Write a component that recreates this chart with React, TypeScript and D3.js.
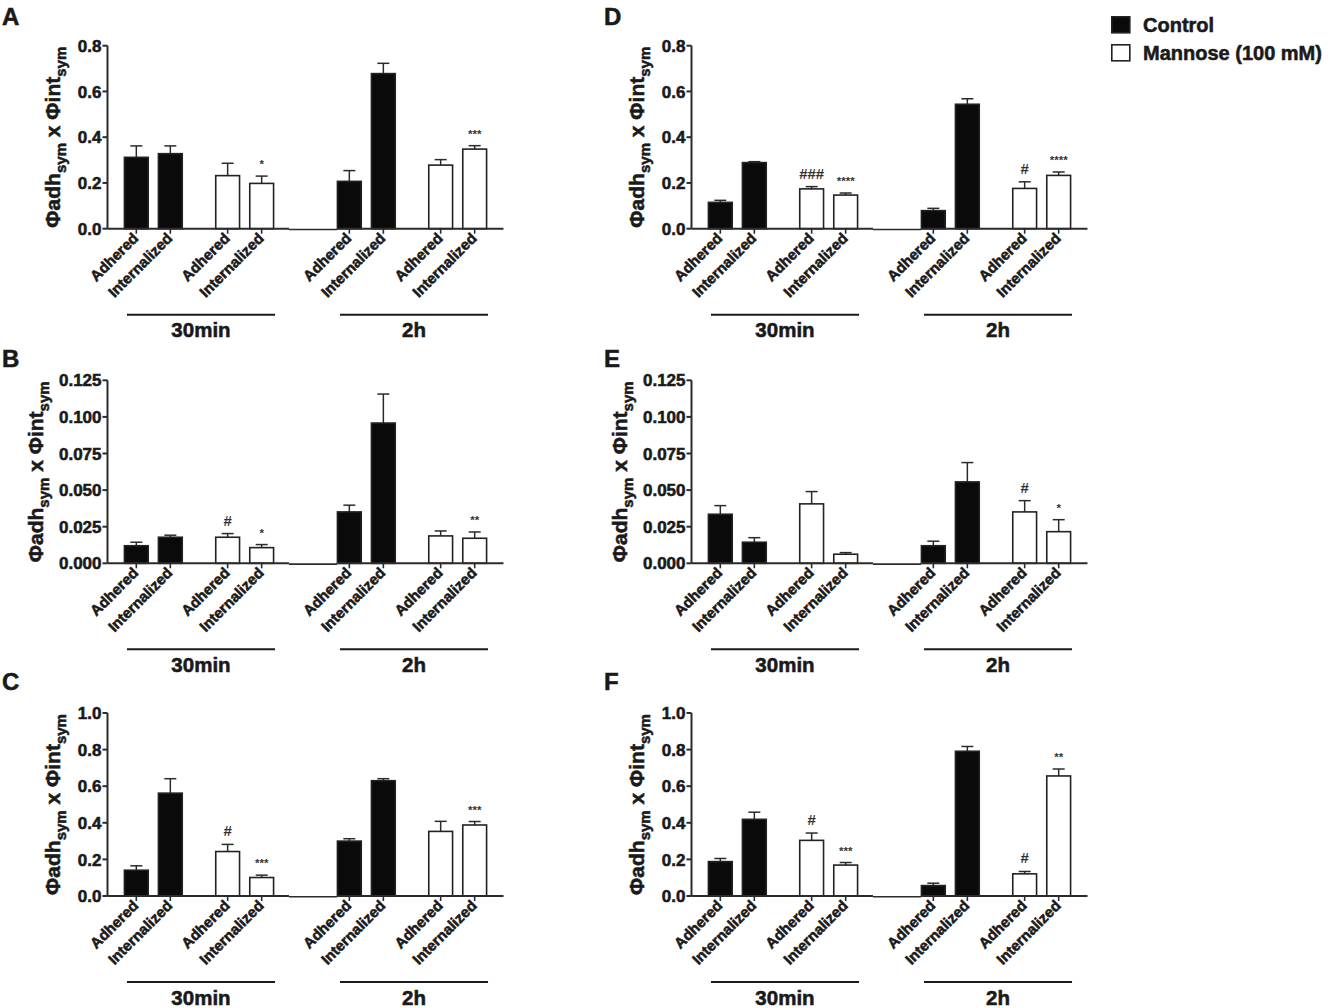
import * as d3 from 'd3';

// group / category structure
const times = ['30min', '2h'];
const treatments = ['Control', 'Mannose (100 mM)'];
const fractions = ['Adhered', 'Internalized'];

// bar order: 30min Ctrl Adh, 30min Ctrl Int, 30min Man Adh, 30min Man Int, 2h Ctrl Adh, 2h Ctrl Int, 2h Man Adh, 2h Man Int
const meansA = [0.312, 0.328, 0.232, 0.198, 0.207, 0.678, 0.278, 0.348];
const semA = [0.05, 0.034, 0.054, 0.032, 0.047, 0.045, 0.024, 0.015];
const marksA = ['', '', '', '*', '', '', '', '***'];

const meansB = [0.012, 0.0178, 0.0178, 0.0107, 0.0351, 0.0958, 0.0187, 0.0171];
const semB = [0.0024, 0.0014, 0.0025, 0.0021, 0.0046, 0.0198, 0.0034, 0.0043];
const marksB = ['', '', '#', '*', '', '', '', '**'];

const meansC = [0.141, 0.562, 0.243, 0.101, 0.3, 0.63, 0.353, 0.388];
const semC = [0.024, 0.079, 0.039, 0.013, 0.013, 0.011, 0.055, 0.019];
const marksC = ['', '', '#', '***', '', '', '', '***'];

const meansD = [0.115, 0.289, 0.174, 0.147, 0.079, 0.544, 0.176, 0.233];
const semD = [0.009, 0.004, 0.01, 0.009, 0.01, 0.024, 0.029, 0.015];
const marksD = ['', '', '###', '****', '', '', '#', '****'];

const meansE = [0.0335, 0.0144, 0.0406, 0.0062, 0.012, 0.0556, 0.0351, 0.0216];
const semE = [0.0059, 0.0031, 0.0084, 0.0011, 0.0031, 0.0132, 0.0077, 0.0082];
const marksE = ['', '', '', '', '', '', '#', '*'];

const meansF = [0.188, 0.419, 0.304, 0.169, 0.057, 0.791, 0.121, 0.656];
const semF = [0.017, 0.039, 0.04, 0.014, 0.013, 0.026, 0.013, 0.038];
const marksF = ['', '', '#', '***', '', '', '#', '**'];

const ticks08 = [0, 0.2, 0.4, 0.6, 0.8];
const ticks0125 = [0, 0.025, 0.05, 0.075, 0.1, 0.125];
const ticks10 = [0, 0.2, 0.4, 0.6, 0.8, 1.0];

const panels = [
  { letter: 'A', col: 0, row: 0, means: meansA, sem: semA, marks: marksA, ticks: ticks08, fmt: '.1f' },
  { letter: 'B', col: 0, row: 1, means: meansB, sem: semB, marks: marksB, ticks: ticks0125, fmt: '.3f' },
  { letter: 'C', col: 0, row: 2, means: meansC, sem: semC, marks: marksC, ticks: ticks10, fmt: '.1f' },
  { letter: 'D', col: 1, row: 0, means: meansD, sem: semD, marks: marksD, ticks: ticks08, fmt: '.1f' },
  { letter: 'E', col: 1, row: 1, means: meansE, sem: semE, marks: marksE, ticks: ticks0125, fmt: '.3f' },
  { letter: 'F', col: 1, row: 2, means: meansF, sem: semF, marks: marksF, ticks: ticks10, fmt: '.1f' },
];

const colX = [107.5, 691.5];
const rowY0 = [228.7, 563.3, 896];
const letterX = [2, 604];
const letterY = [25, 367, 690];

const FONT = "'Liberation Sans', Arial, Helvetica, sans-serif";
const INK = '#1a1a1a';
const AXIS = '#2b2b2b';
const plotW = 396;
const plotH = 183;

// heavier glyphs, like the original export
const heavy = { stroke: INK, strokeWidth: 0.55, paintOrder: 'stroke' } as const;

function Panel({ p }: { p: (typeof panels)[number] }) {
  const x0 = colX[p.col];
  const y0 = rowY0[p.row];

  const outer = d3.scaleBand<string>().domain(times).range([0, plotW]).paddingInner(0.305).paddingOuter(0.082);
  const middle = d3.scaleBand<string>().domain(treatments).range([0, outer.bandwidth()]).paddingInner(0.255).paddingOuter(-0.062);
  const inner = d3.scaleBand<string>().domain(fractions).range([0, middle.bandwidth()]).paddingInner(0.3).paddingOuter(0.15);
  const y = d3.scaleLinear().domain([0, p.ticks[p.ticks.length - 1]]).range([0, -plotH]);
  const fmt = d3.format(p.fmt);

  const bars = times.flatMap((t, ti) =>
    treatments.flatMap((g, gi) =>
      fractions.map((f, fi) => {
        const i = ti * 4 + gi * 2 + fi;
        return {
          t, g, f,
          x: (outer(t) ?? 0) + (middle(g) ?? 0) + (inner(f) ?? 0),
          mean: p.means[i],
          err: p.means[i] + p.sem[i],
          mark: p.marks[i],
        };
      })
    )
  );
  const bw = inner.bandwidth();
  const gapStart = (outer(times[0]) ?? 0) + outer.bandwidth() + 16;
  const gapEnd = (outer(times[1]) ?? 0) - 1;
  const labelX = p.fmt === '.3f' ? -65 : -48;

  return (
    <g>
      <text x={letterX[p.col]} y={letterY[p.row]} fontFamily={FONT} fontWeight="bold" fontSize={24} fill={INK} {...heavy}>{p.letter}</text>
      <g transform={`translate(${x0},${y0})`}>
        {/* y axis label */}
        <text transform={`translate(${labelX},${-plotH / 2}) rotate(-90)`} textAnchor="middle" fontFamily={FONT} fontWeight="bold" fontSize={21} fill={INK} {...heavy}>
          Φadh<tspan fontSize={15} dy={6}>sym</tspan><tspan dy={-6}> x Φint</tspan><tspan fontSize={15} dy={6}>sym</tspan>
        </text>

        {/* bars */}
        {bars.map((b, i) => (
          <g key={i}>
            <line x1={b.x + bw / 2} x2={b.x + bw / 2} y1={y(b.mean)} y2={y(b.err)} stroke={AXIS} strokeWidth={1.5} />
            <line x1={b.x + bw / 2 - 6} x2={b.x + bw / 2 + 6} y1={y(b.err)} y2={y(b.err)} stroke={AXIS} strokeWidth={1.5} />
            <rect x={b.x} y={y(b.mean)} width={bw} height={-y(b.mean)}
              fill={b.g === treatments[0] ? '#0a0a0a' : '#ffffff'} stroke="#222" strokeWidth={1.6} />
            {b.mark && (
              <text x={b.x + bw / 2} y={y(b.err) - 8} textAnchor="middle" fontFamily={FONT} fontWeight="bold"
                fontSize={b.mark.startsWith('#') ? 15 : 11.5} fill="#333">{b.mark}</text>
            )}
          </g>
        ))}

        {/* y axis */}
        <line x1={0} x2={0} y1={-plotH} y2={0} stroke={AXIS} strokeWidth={2} />
        {p.ticks.map((t) => (
          <g key={t} transform={`translate(0,${y(t)})`}>
            <line x1={-5} x2={0} stroke={AXIS} strokeWidth={2} />
            <text x={-6} dy="0.36em" textAnchor="end" fontFamily={FONT} fontWeight="bold" fontSize={17} fill={INK} {...heavy}>{fmt(t)}</text>
          </g>
        ))}

        {/* x axis with blank column */}
        <line x1={0} x2={gapStart} y1={0} y2={0} stroke={AXIS} strokeWidth={2} />
        <line x1={gapStart} x2={gapEnd} y1={0.8} y2={0.8} stroke={AXIS} strokeWidth={1.6} />
        <line x1={gapEnd} x2={plotW} y1={0} y2={0} stroke={AXIS} strokeWidth={2} />
        {bars.map((b, i) => (
          <g key={i} transform={`translate(${b.x + bw / 2},0)`}>
            <line y1={0} y2={5} stroke={AXIS} strokeWidth={1.6} />
            <text transform="translate(3,10.5) rotate(-45)" textAnchor="end" fontFamily={FONT} fontWeight="bold" fontSize={15} fill={INK} {...heavy}>{b.f}</text>
          </g>
        ))}

        {/* time groups */}
        {times.map((t) => (
          <g key={t}>
            <line x1={(outer(t) ?? 0) + 2} x2={(outer(t) ?? 0) + outer.bandwidth() + 2} y1={86} y2={86} stroke={INK} strokeWidth={2} />
            <text x={(outer(t) ?? 0) + outer.bandwidth() / 2 + 2} y={108.5} textAnchor="middle" fontFamily={FONT} fontWeight="bold" fontSize={20.5} fill={INK} {...heavy}>{t}</text>
          </g>
        ))}
      </g>
    </g>
  );
}

export default function App() {
  return (
    <svg width={1333} height={1008} style={{ position: 'absolute', left: 0, top: 0, background: '#fff' }}>
      <rect width={1333} height={1008} fill="#fff" />
      {panels.map((p) => <Panel key={p.letter} p={p} />)}
      {/* legend */}
      {treatments.map((t, i) => (
        <g key={t} transform={`translate(1111,${16 + i * 28})`}>
          <rect x={0.8} y={0.8} width={18} height={16} fill={i === 0 ? '#0a0a0a' : '#fff'} stroke="#222" strokeWidth={1.6} />
          <text x={32} y={15.5} fontFamily={FONT} fontWeight="bold" fontSize={20} fill={INK} {...heavy}>{t}</text>
        </g>
      ))}
    </svg>
  );
}
